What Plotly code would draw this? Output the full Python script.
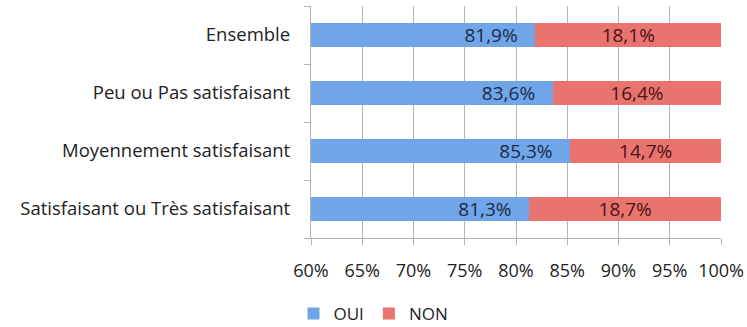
import plotly.graph_objects as go

categories = ["Satisfaisant ou Très satisfaisant", "Moyennement satisfaisant",
              "Peu ou Pas satisfaisant", "Ensemble"]
oui = [0.813, 0.853, 0.836, 0.819]
non = [0.187, 0.147, 0.164, 0.181]
tick_vals = [0.60, 0.65, 0.70, 0.75, 0.80, 0.85, 0.90, 0.95, 1.00]
tick_text = ["60%", "65%", "70%", "75%", "80%", "85%", "90%", "95%", "100%"]

FONT = "Open Sans"
PAD = "\u00a0\u00a0\u00a0"  # keeps OUI labels off the end of the bar


def fr_pct(v):
    return f"{v * 100:.1f}%".replace(".", ",")


fig = go.Figure()
fig.add_trace(go.Bar(
    y=categories, x=oui, orientation="h", name="OUI",
    marker=dict(color="#70a5e8", line=dict(width=0)),
    text=[fr_pct(v) + PAD for v in oui], textposition="inside",
    insidetextanchor="end", constraintext="none",
    textfont=dict(family=FONT, size=19, color="#1c2a4a"),
))
fig.add_trace(go.Bar(
    y=categories, x=non, orientation="h", name="NON",
    marker=dict(color="#e8736f", line=dict(width=0)),
    text=[fr_pct(v) for v in non], textposition="inside",
    insidetextanchor="middle", constraintext="none",
    textfont=dict(family=FONT, size=19, color="#4a1414"),
))

fig.update_layout(
    width=747, height=327,
    margin=dict(l=311, r=26, t=6, b=89),
    barmode="stack", bargap=0.59,
    plot_bgcolor="white", paper_bgcolor="white",
    font=dict(family=FONT, size=18, color="#222222"),
    legend=dict(orientation="h", xref="container", yref="container",
                x=0.5, xanchor="center", y=0.04, yanchor="middle",
                font=dict(size=17), traceorder="normal",
                itemwidth=30),
    xaxis=dict(range=[0.6, 1.0], tickvals=tick_vals, ticktext=tick_text,
               showgrid=True, gridcolor="#b3b3b3", gridwidth=1.2,
               showline=True, linecolor="#b3b3b3",
               ticks="outside", ticklen=6, tickcolor="#b3b3b3",
               ticklabelstandoff=10, tickfont=dict(size=18),
               zeroline=False, fixedrange=True, automargin=False),
    yaxis=dict(showline=True, linecolor="#b3b3b3", linewidth=1.2,
               ticks="outside", ticklen=6, tickcolor="#b3b3b3",
               tickson="boundaries", ticklabelstandoff=16,
               tickfont=dict(size=18.5), automargin=False),
)

fig.write_html("out.html")
